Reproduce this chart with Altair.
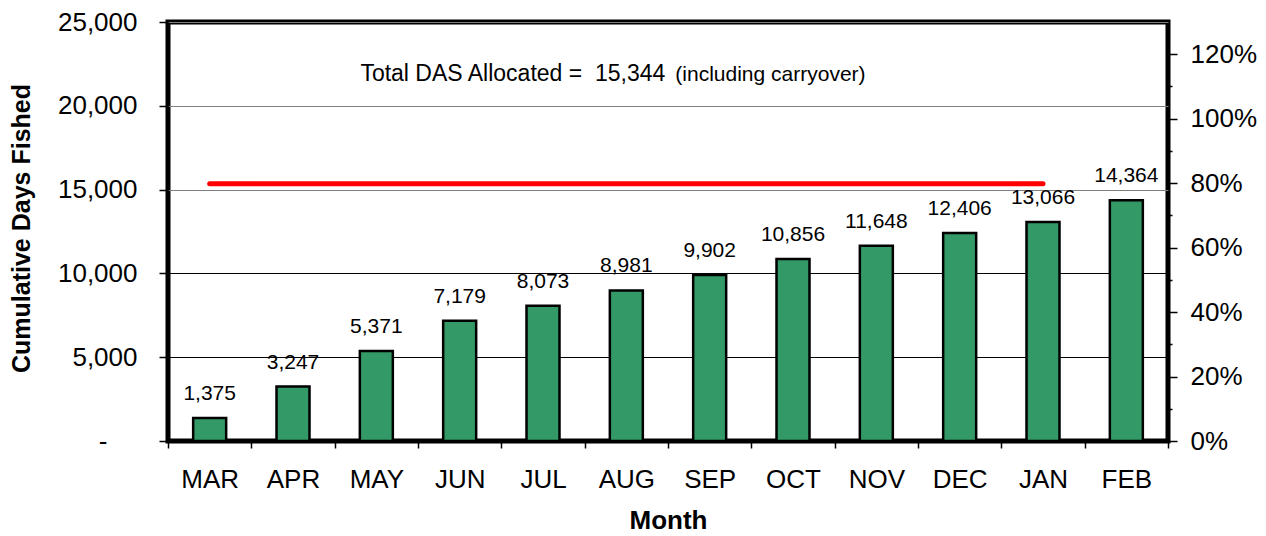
import altair as alt
import pandas as pd

months = ["MAR", "APR", "MAY", "JUN", "JUL", "AUG", "SEP", "OCT", "NOV", "DEC", "JAN", "FEB"]
days_fished = [1375, 3247, 5371, 7179, 8073, 8981, 9902, 10856, 11648, 12406, 13066, 14364]
total_das = 15344
line_months = months[:-1]
left_ticks = [0, 5000, 10000, 15000, 20000, 25000]
right_ticks = [round(i * 0.1, 1) for i in range(13)]

FONT = "Liberation Sans"

df = pd.DataFrame({"month": months, "days": days_fished})
line_df = pd.DataFrame({"month": line_months, "days": [total_das] * len(line_months)})
pct_df = pd.DataFrame({"pct": [0.0]})

x_scale = alt.Scale(domain=months, paddingInner=0, paddingOuter=0)
y_scale = alt.Scale(domain=[0, 25000], nice=False)

x_axis = alt.Axis(
    labelAngle=0, labelFontSize=26, labelColor="black", labelFont=FONT,
    tickBand="extent", tickSize=7, tickWidth=1.5, tickColor="black",
    labelPadding=18, domain=False, grid=False,
    titleFontSize=26, titleFontWeight="bold", titleFont=FONT, titleColor="black",
    titleBaseline="alphabetic", titleY=87,
)

y_axis = alt.Axis(
    values=left_ticks,
    labelExpr="datum.value == 0 ? '-' : format(datum.value, ',')",
    labelFontSize=26, labelColor="black", labelFont=FONT,
    tickSize=9, tickWidth=1.5, tickColor="black",
    labelPadding={"condition": {"test": "datum.value == 0", "value": 52}, "value": 22},
    domain=False, grid=True,
    gridColor={"condition": {"test": "datum.value <= 10000", "value": "black"}, "value": "#808080"},
    gridWidth=1,
    titleFontSize=25, titleFontWeight="bold", titleFont=FONT, titleColor="black",
    titleAngle=270, titleBaseline="alphabetic", titleAlign="center",
    titleX=-139, titleY=206,
)

x_enc = alt.X("month:N", sort=months, scale=x_scale, axis=x_axis, title="Month")
y_enc = alt.Y("days:Q", scale=y_scale, axis=y_axis, title="Cumulative Days Fished")

bars = alt.Chart(df).mark_bar(size=33, fill="#339966", stroke="black", strokeWidth=2.5).encode(
    x=x_enc, y=y_enc
)

labels = alt.Chart(df).mark_text(
    fontSize=21, font=FONT, color="black", baseline="alphabetic", dy=-18
).encode(x=x_enc, y=y_enc, text=alt.Text("days:Q", format=","))

alloc_line = alt.Chart(line_df).mark_line(color="#FF0000", strokeWidth=5, strokeCap="round").encode(
    x=x_enc, y=y_enc
)

main_text = f"Total DAS Allocated =\u00a0 {total_das:,}"
paren_text = "(including carryover)"
annot_df = pd.DataFrame({"month": ["AUG"], "days": [21500], "t1": [main_text], "t2": [paren_text]})

annot1 = alt.Chart(annot_df).mark_text(
    fontSize=23, font=FONT, color="black", align="right", baseline="alphabetic", dx=39
).encode(x=x_enc, y=y_enc, text="t1:N")

annot2 = alt.Chart(annot_df).mark_text(
    fontSize=21, font=FONT, color="black", align="left", baseline="alphabetic", dx=49
).encode(x=x_enc, y=y_enc, text="t2:N")

inner = alt.layer(bars, alloc_line, labels, annot1, annot2)

major_test = "round(datum.value * 10) % 2 == 0"
right_axis = alt.Axis(
    orient="right", values=right_ticks,
    labelExpr=f"{major_test} ? format(datum.value, '.0%') : ''",
    labelFontSize=26, labelColor="black", labelFont=FONT,
    tickSize={"condition": {"test": major_test, "value": 9}, "value": 4},
    tickWidth=1.5, tickColor="black", labelPadding=13,
    domain=False, grid=False, title=None,
)

pct_layer = alt.Chart(pct_df).mark_point(opacity=0).encode(
    y=alt.Y("pct:Q", scale=alt.Scale(domain=[0, 1.3], nice=False), axis=right_axis)
)

chart = alt.layer(inner, pct_layer).resolve_scale(y="independent").properties(
    width=1000, height=419,
    autosize=alt.AutoSizeParams(type="none"),
    padding={"left": 160, "top": 14, "right": 90, "bottom": 92},
).configure(font=FONT).configure_view(stroke="black", strokeWidth=5)

chart.save("out.html", embed_options={"renderer": "svg", "actions": False})
